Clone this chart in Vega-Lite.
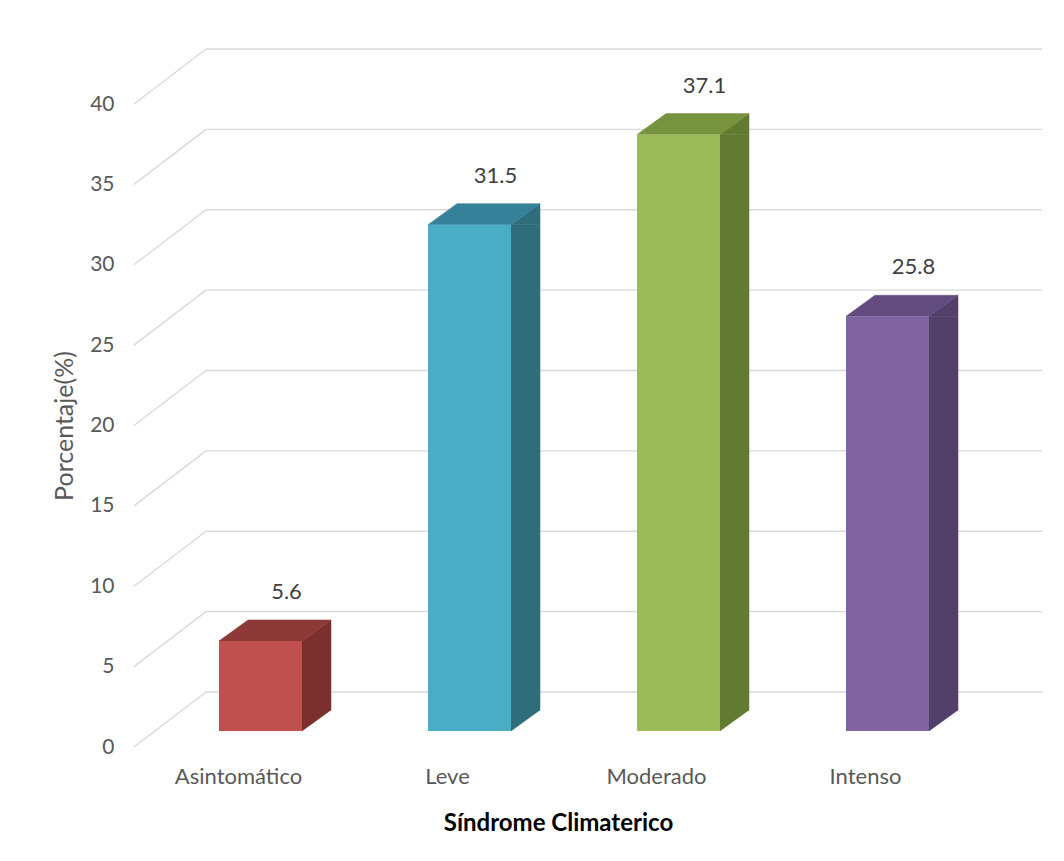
{
  "$schema": "https://vega.github.io/schema/vega-lite/v6.json",
  "autosize": {"type": "none"},
  "padding": {"left": 134, "top": 104, "right": 94, "bottom": 114},
  "width": 836,
  "height": 643,
  "background": "white",
  "config": {
    "view": {"stroke": null},
    "font": "Lato",
    "axis": {"domain": false, "ticks": false, "grid": false, "labelColor": "#595959", "labelFontSize": 21},
    "axisX": {"labelPadding": 19, "labelAngle": 0, "labelFontSize": 22, "titleFontSize": 24, "titleFontWeight": "bold", "titleColor": "#000000", "titlePadding": 24, "titleX": 424},
    "axisY": {"labelPadding": 20, "titleFontSize": 25, "titleFontWeight": "normal", "titleColor": "#595959", "titlePadding": 12}
  },
  "datasets": {
    "barras": [
      {"categoria": "Asintomático", "porcentaje": 5.6},
      {"categoria": "Leve", "porcentaje": 31.5},
      {"categoria": "Moderado", "porcentaje": 37.1},
      {"categoria": "Intenso", "porcentaje": 25.8}
    ],
    "marcas": [
      {"v": 0}, {"v": 5}, {"v": 10}, {"v": 15}, {"v": 20},
      {"v": 25}, {"v": 30}, {"v": 35}, {"v": 40}
    ]
  },
  "resolve": {"scale": {"fill": "independent", "stroke": "independent", "color": "independent"}},
  "layer": [
    {
      "data": {"name": "marcas"},
      "mark": {"type": "rule", "color": "#D9D9D9", "strokeWidth": 1.3, "xOffset": -104.5, "x2Offset": -32.5, "y2Offset": -55},
      "encoding": {
        "x": {"datum": "Asintomático", "type": "nominal",
              "scale": {"type": "band", "domain": ["Asintomático", "Leve", "Moderado", "Intenso"], "paddingInner": 0, "paddingOuter": 0}},
        "x2": {"datum": "Asintomático"},
        "y": {"field": "v", "type": "quantitative", "scale": {"domain": [0, 40], "nice": false}},
        "y2": {"field": "v"}
      }
    },
    {
      "data": {"name": "marcas"},
      "mark": {"type": "rule", "color": "#D9D9D9", "strokeWidth": 1.3, "xOffset": -32.5, "x2Offset": 176.5, "yOffset": -55},
      "encoding": {
        "x": {"datum": "Asintomático", "type": "nominal"},
        "x2": {"datum": "Intenso"},
        "y": {"field": "v", "type": "quantitative"}
      }
    },
    {
      "data": {"name": "barras"},
      "mark": {"type": "bar", "width": 29, "xOffset": 78, "yOffset": -16, "y2Offset": -37, "strokeWidth": 0.5},
      "encoding": {
        "x": {"field": "categoria", "type": "nominal", "sort": null},
        "y": {"field": "porcentaje", "type": "quantitative"},
        "y2": {"datum": 0},
        "fill": {"field": "categoria", "type": "nominal", "sort": null, "legend": null,
                 "scale": {"domain": ["Asintomático", "Leve", "Moderado", "Intenso"], "range": ["#7C302E", "#2F6C7C", "#637A33", "#523F6A"]}},
        "stroke": {"field": "categoria", "type": "nominal", "sort": null, "legend": null,
                 "scale": {"domain": ["Asintomático", "Leve", "Moderado", "Intenso"], "range": ["#7C302E", "#2F6C7C", "#637A33", "#523F6A"]}}
      }
    },
    {
      "data": {"name": "barras"},
      "mark": {"type": "point", "shape": "M 41.5 0 L 70.5 -21 L 70.5 0 Z", "size": 4, "filled": true, "opacity": 1, "xOffset": 22, "yOffset": -16, "strokeWidth": 0.5},
      "encoding": {
        "x": {"field": "categoria", "type": "nominal", "sort": null},
        "y": {"field": "porcentaje", "type": "quantitative"},
        "fill": {"field": "categoria", "type": "nominal", "sort": null, "legend": null,
                 "scale": {"domain": ["Asintomático", "Leve", "Moderado", "Intenso"], "range": ["#7C302E", "#2F6C7C", "#637A33", "#523F6A"]}},
        "stroke": {"field": "categoria", "type": "nominal", "sort": null, "legend": null,
                 "scale": {"domain": ["Asintomático", "Leve", "Moderado", "Intenso"], "range": ["#7C302E", "#2F6C7C", "#637A33", "#523F6A"]}}
      }
    },
    {
      "data": {"name": "barras"},
      "mark": {"type": "point", "shape": "M 41.5 0 L 41.5 -21 L 70.5 -21 Z", "size": 4, "filled": true, "opacity": 1, "xOffset": 22, "yOffset": -16, "strokeWidth": 0.5},
      "encoding": {
        "x": {"field": "categoria", "type": "nominal", "sort": null},
        "y": {"datum": 0, "type": "quantitative"},
        "fill": {"field": "categoria", "type": "nominal", "sort": null, "legend": null,
                 "scale": {"domain": ["Asintomático", "Leve", "Moderado", "Intenso"], "range": ["#7C302E", "#2F6C7C", "#637A33", "#523F6A"]}},
        "stroke": {"field": "categoria", "type": "nominal", "sort": null, "legend": null,
                 "scale": {"domain": ["Asintomático", "Leve", "Moderado", "Intenso"], "range": ["#7C302E", "#2F6C7C", "#637A33", "#523F6A"]}}
      }
    },
    {
      "data": {"name": "barras"},
      "mark": {"type": "point", "shape": "M -41.5 0 L 41.5 0 L 70.5 -21 L -12.5 -21 Z", "size": 4, "filled": true, "opacity": 1, "xOffset": 22, "yOffset": -16, "strokeWidth": 0.5},
      "encoding": {
        "x": {"field": "categoria", "type": "nominal", "sort": null},
        "y": {"field": "porcentaje", "type": "quantitative"},
        "fill": {"field": "categoria", "type": "nominal", "sort": null, "legend": null,
                 "scale": {"domain": ["Asintomático", "Leve", "Moderado", "Intenso"], "range": ["#8D3937", "#36819A", "#77933D", "#624C7F"]}},
        "stroke": {"field": "categoria", "type": "nominal", "sort": null, "legend": null,
                 "scale": {"domain": ["Asintomático", "Leve", "Moderado", "Intenso"], "range": ["#8D3937", "#36819A", "#77933D", "#624C7F"]}}
      }
    },
    {
      "data": {"name": "barras"},
      "mark": {"type": "bar", "width": 83, "xOffset": 22, "yOffset": -16, "y2Offset": -16},
      "encoding": {
        "x": {"field": "categoria", "type": "nominal", "sort": null,
              "axis": {"title": "Síndrome Climaterico"}},
        "y": {"field": "porcentaje", "type": "quantitative",
              "axis": {"title": "Porcentaje(%)", "values": [0, 5, 10, 15, 20, 25, 30, 35, 40]}},
        "y2": {"datum": 0},
        "color": {"field": "categoria", "type": "nominal", "sort": null, "legend": null,
                  "scale": {"domain": ["Asintomático", "Leve", "Moderado", "Intenso"], "range": ["#C0504D", "#4BACC6", "#9BBB59", "#8064A2"]}}
      }
    },
    {
      "data": {"name": "barras"},
      "mark": {"type": "text", "dx": 48, "dy": -65, "fontSize": 22, "color": "#404040", "baseline": "middle"},
      "encoding": {
        "x": {"field": "categoria", "type": "nominal", "sort": null},
        "y": {"field": "porcentaje", "type": "quantitative"},
        "text": {"field": "porcentaje", "type": "quantitative", "format": ".1f"}
      }
    }
  ]
}
